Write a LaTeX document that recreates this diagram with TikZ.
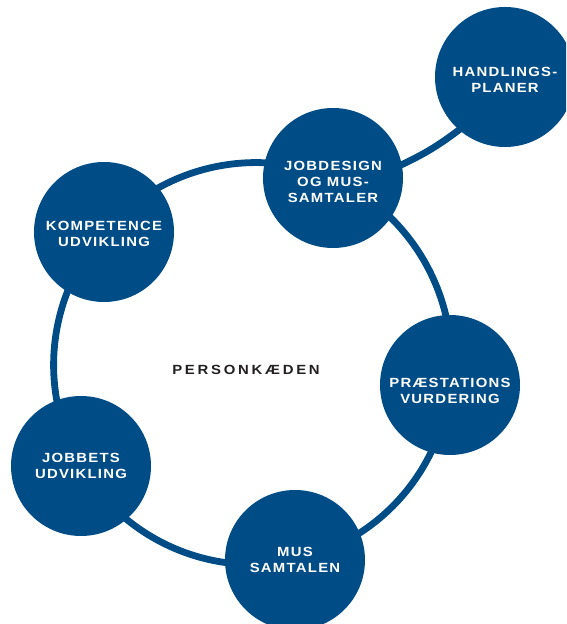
\documentclass[tikz,border=0pt]{standalone}
\usepackage{fontspec}
\setmainfont{Liberation Sans}
\newfontfamily\stagefont[FakeStretch=1.12,LetterSpace=9.4]{Liberation Sans Bold}
\newfontfamily\titlefont[FakeStretch=1.12,LetterSpace=20.6]{Liberation Sans Bold}
\usetikzlibrary{backgrounds}
\definecolor{ringblue}{RGB}{0,76,134}
\definecolor{inkdark}{RGB}{35,31,32}
\begin{document}
\begin{tikzpicture}[x=1pt,y=1pt,
  stage/.style={circle, fill=ringblue, minimum size=140pt, inner sep=0pt},
  stagetext/.style={text=white, align=center, inner sep=0pt,
    font=\stagefont\fontsize{13.3}{15.7}\selectfont},
  link/.style={draw=ringblue, line width=6.8pt},
  branch/.style={link, shorten <=-4pt, shorten >=-4pt}]
\useasboundingbox (0,0) rectangle (566,624);
\clip (0,0) rectangle (566,624);

% stages of the chain
\node[stage] (jobdesign)   at (333,446) {};
\node[stage] (kompetence)  at (104,392) {};
\node[stage] (jobbets)     at (81,158)  {};
\node[stage] (mus)         at (295,64)  {};
\node[stage] (praestation) at (450,239) {};
\node[stage] (handling)    at (505,547) {};

\node[stagetext] (jobdesign-t)   at ([yshift=-4pt]jobdesign)   {JOBDESIGN\\OG MUS-\\SAMTALER};
\node[stagetext] (kompetence-t)  at ([yshift=-2pt]kompetence)  {KOMPETENCE\\UDVIKLING};
\node[stagetext] (jobbets-t)     at (jobbets)                  {JOBBETS\\UDVIKLING};
\node[stagetext] (mus-t)         at (mus)                      {MUS\\SAMTALEN};
\node[stagetext] (praestation-t) at ([yshift=-6pt]praestation) {PRÆSTATIONS\\VURDERING};
\node[stagetext] (handling-t)    at ([yshift=-3pt]handling)    {HANDLINGS-\\PLANER};

% title in the middle of the ring
\node[text=inkdark, font=\titlefont\fontsize{13.3}{15.7}\selectfont] (title) at (246,254) {PERSONKÆDEN};

% ring through the stage centres, and the side branch
\begin{scope}[on background layer, looseness=0.94]
  \draw[link] (jobdesign.center) to[bend right=36] (kompetence.center);
  \draw[link] (kompetence.center) to[bend right=36] (jobbets.center);
  \draw[link] (jobbets.center) to[bend right=36] (mus.center);
  \draw[link] (mus.center) to[bend right=36] (praestation.center);
  \draw[link] (praestation.center) to[bend right=36] (jobdesign.center);
  \draw[branch] (jobdesign.11) to[bend right=6, looseness=1] (handling.229.5);
\end{scope}
\end{tikzpicture}
\end{document}
